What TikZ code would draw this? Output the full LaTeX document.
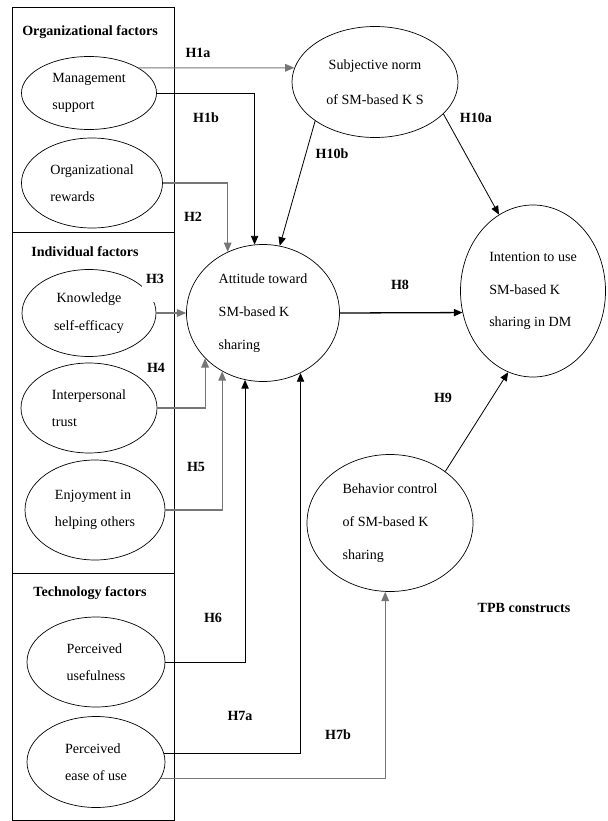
\documentclass[tikz,border=0pt]{standalone}
\usepackage{fontspec}
\setmainfont{Liberation Serif}
\usepackage{tikz}
\usetikzlibrary{shapes.geometric, arrows.meta, positioning}
\definecolor{linegray}{RGB}{118, 118, 118}

\begin{document}
\begin{tikzpicture}[
    x=0.03cm, y=-0.03cm,
    factor/.style={draw, ellipse, inner sep=0pt, align=left, line width=0.6pt,
                   font=\fontsize{12}{23.5}\selectfont},
    construct/.style={draw, ellipse, inner sep=0pt, align=left, line width=0.6pt,
                      font=\fontsize{12}{28}\selectfont},
    grouphead/.style={font=\fontsize{12}{14}\selectfont\bfseries},
    hyp/.style={font=\fontsize{12}{14}\selectfont\bfseries, inner sep=1pt},
    barrow/.style={-{Triangle[length=2.6mm, width=2.2mm]}, line width=0.7pt},
    garrow/.style={-{Triangle[length=2.8mm, width=2.3mm]}, line width=0.9pt,
                   color=linegray},
]
    \useasboundingbox (0,0) rectangle (607,821);

    \draw[line width=0.7pt] (12,7) rectangle (174,232);
    \draw[line width=0.7pt] (12,232) rectangle (174,573);
    \draw[line width=0.7pt] (12,573) rectangle (174,820);

    \node[grouphead] (orghead) at (90,32) {Organizational factors};
    \node[grouphead] (indhead) at (85,252) {Individual factors};
    \node[grouphead] (techhead) at (90,593) {Technology factors};

    \node[factor, minimum width=4.05cm, minimum height=2.19cm] (mgmt) at (89,93)
        {Management\\support};
    \node[factor, minimum width=4.23cm, minimum height=2.7cm] (rewards) at (92,183)
        {Organizational\\rewards};
    \node[factor, align=center, minimum width=4.02cm, minimum height=2.61cm] (know) at (89,313)
        {Knowledge\\self-efficacy};
    \node[factor, minimum width=4.08cm, minimum height=2.7cm] (trust) at (89,408)
        {Interpersonal\\trust};
    \node[factor, minimum width=4.2cm, minimum height=3cm] (enjoy) at (95,510)
        {Enjoyment in\\helping others};
    \node[factor, minimum width=4.14cm, minimum height=2.7cm] (useful) at (96,662)
        {Perceived\\usefulness};
    \node[factor, minimum width=4.14cm, minimum height=2.73cm] (ease) at (96,762)
        {Perceived\\ease of use};

    \node[construct, align=center, font=\fontsize{12}{30}\selectfont,
          minimum width=4.98cm, minimum height=3.33cm] (subj) at (375,82)
        {Subjective norm\\of SM-based K S};
    \node[construct, minimum width=4.59cm, minimum height=4.11cm] (att) at (263,313)
        {Attitude toward\\SM-based K\\sharing};
    \node[construct, minimum width=4.35cm, minimum height=5.16cm] (intent) at (533,291)
        {Intention to use\\SM-based K\\sharing in DM};
    \node[construct, minimum width=4.98cm, minimum height=4.11cm] (behav) at (390,523)
        {Behavior control\\of SM-based K\\sharing};

    \draw[garrow] (mgmt.27) -- (subj.170);
    \draw[barrow] (mgmt.east) -| (att.97);
    \draw[barrow] (subj.213) -- (att.76);
    \draw[garrow] (rewards.east) -| (att.120);
    \draw[barrow] (subj.335) -- (intent.114);
    \draw[garrow] (know.east) -- (att.west);
    \draw[garrow] (trust.east) -| (att.218);
    \draw[garrow] (enjoy.east) -| (att.235);
    \draw[barrow] (useful.east) -| (att.255);
    \draw[barrow] (ease.7) -| (att.302);
    \draw[garrow] (ease.346) -| (behav.266);
    \draw[barrow, line width=1.1pt] (att.east) -- (intent.197);
    \draw[barrow] (behav.43) -- (intent.253);

    \node[hyp] (h1a) at (198,53) {H1a};
    \node[hyp] (h1b) at (206,118) {H1b};
    \node[hyp] (h2) at (193,217) {H2};
    \node[hyp, fill=white, minimum width=0.95cm, minimum height=1.15cm] (h3) at (158,283) {};
    \node[hyp] (h3txt) at (155,279) {H3};
    \node[hyp] (h4) at (156,368) {H4};
    \node[hyp] (h5) at (196,467) {H5};
    \node[hyp] (h6) at (213,618) {H6};
    \node[hyp] (h7a) at (240,716) {H7a};
    \node[hyp] (h7b) at (338,735) {H7b};
    \node[hyp] (h8) at (400,285) {H8};
    \node[hyp] (h9) at (443,398) {H9};
    \node[hyp] (h10a) at (476,118) {H10a};
    \node[hyp] (h10b) at (332,154) {H10b};
    \node[hyp] (tpb) at (524,608) {TPB constructs};
\end{tikzpicture}
\end{document}
